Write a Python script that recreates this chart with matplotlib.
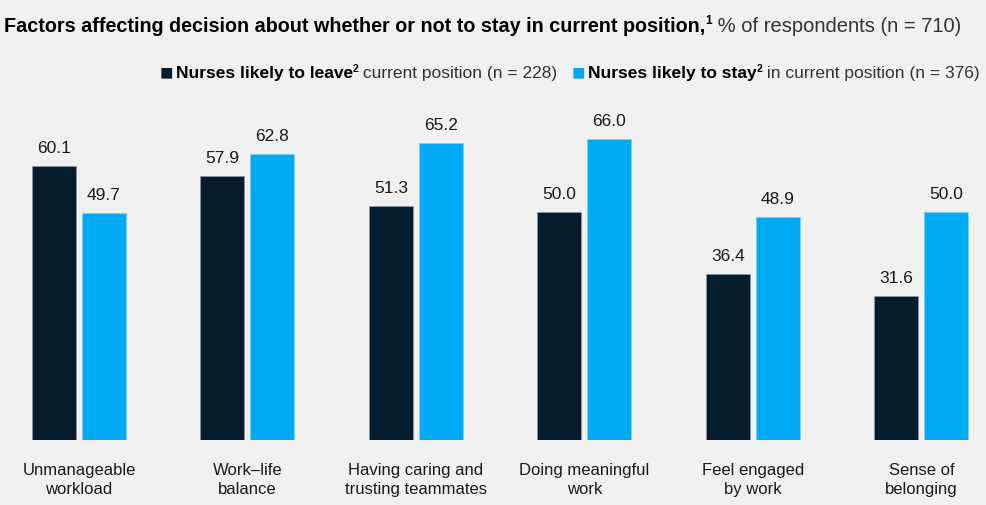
import matplotlib
matplotlib.use("Agg")
import matplotlib.pyplot as plt
import numpy as np

categories = ["Unmanageable\nworkload", "Work\u2013life\nbalance", "Having caring and\ntrusting teammates",
              "Doing meaningful\nwork", "Feel engaged\nby work", "Sense of\nbelonging"]
leave_values = [60.1, 57.9, 51.3, 50.0, 36.4, 31.6]
stay_values = [49.7, 62.8, 65.2, 66.0, 48.9, 50.0]

DARK = "#051c2c"
BLUE = "#00a9f4"
BG = "#f0f0f0"
TXT = "#1a1a1a"
FONT = ["Liberation Sans Narrow", "Liberation Sans", "DejaVu Sans"]
plt.rcParams['font.family'] = FONT

W, H = 987, 506
fig = plt.figure(figsize=(W / 100, H / 100), dpi=100, facecolor=BG)

spacing = 168.5
c0 = 79
base_px = 441
ppu = 4.56
top_px = 95
ax = fig.add_axes([0, (H - base_px) / H, 1, (base_px - top_px) / H])
ax.set_facecolor(BG)
ax.set_xlim(-c0 / spacing, (W - c0) / spacing)
ax.set_ylim(0, (base_px - top_px) / ppu)
for s in ax.spines.values():
    s.set_visible(False)
ax.set_xticks([])
ax.set_yticks([])

x = np.arange(len(categories))
bw = 44 / spacing
off = 25 / spacing
b1 = ax.bar(x - off, leave_values, bw, color=DARK, edgecolor="#8a97a3", linewidth=0.6)
b2 = ax.bar(x + off, stay_values, bw, color=BLUE, edgecolor="#7fd0f5", linewidth=0.6)
for bars, vals in ((b1, leave_values), (b2, stay_values)):
    for r, v in zip(bars, vals):
        ax.annotate(f"{v:.1f}", (r.get_x() + r.get_width() / 2, v), xytext=(0, 8),
                    textcoords="offset points", ha="center", va="bottom",
                    fontsize=12.5, color=TXT)

for xi, c in zip(x, categories):
    ax.annotate(c, (xi, 0), xytext=(0, -16), textcoords="offset points",
                ha="center", va="top", fontsize=12, color=TXT, linespacing=1.35)

fig.canvas.draw()
renderer = fig.canvas.get_renderer()


def layout(segments, x0, y0, align="left"):
    # segments: (text, weight, size, raise_px, color)
    texts = []
    for txt, wt, sz, rs, col in segments:
        t = fig.text(0, 0, txt, fontsize=sz, fontweight=wt, color=col,
                     ha="left", va="baseline", transform=None)
        texts.append((t, rs))
    widths = []
    for t, rs in texts:
        bb = t.get_window_extent(renderer)
        widths.append(bb.width)
    total = sum(widths)
    cx = x0 - total if align == "right" else x0
    for (t, rs), w in zip(texts, widths):
        t.set_position((cx, y0 + rs))
        cx += w
    return texts


def ypx(y_top):
    return H - y_top

layout([
    ("Factors affecting decision about whether or not to stay in current position,", "bold", 14.2, 0, "#000000"),
    ("1", "bold", 8.5, 8, "#000000"),
    (" % of respondents (n = 710)", "normal", 14.5, 0, "#333333"),
], 4, ypx(32))

segs = [
    ("\u25A0", "normal", 16, -1, DARK),
    (" ", "normal", 6, 0, DARK),
    ("Nurses likely to leave", "bold", 12.5, 0, "#000000"),
    ("2", "bold", 7.5, 6, "#000000"),
    (" current position (n = 228)   ", "normal", 12.5, 0, "#333333"),
    ("\u25A0", "normal", 16, -1, BLUE),
    (" ", "normal", 6, 0, DARK),
    ("Nurses likely to stay", "bold", 12.5, 0, "#000000"),
    ("2", "bold", 7.5, 6, "#000000"),
    (" in current position (n = 376)", "normal", 12.5, 0, "#333333"),
]
layout(segs, 980, ypx(78), align="right")

fig.savefig("out.png", dpi=100, facecolor=BG)
